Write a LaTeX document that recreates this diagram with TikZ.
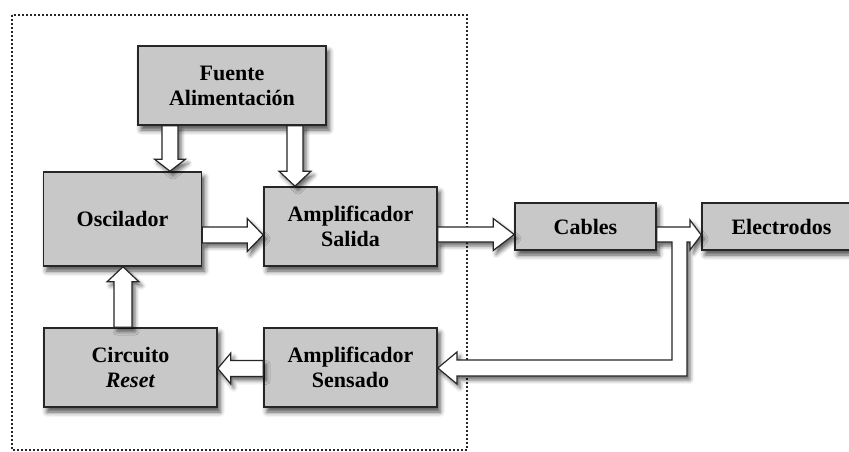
\documentclass[tikz,border=0pt]{standalone}
\usepackage{fontspec}
\setmainfont{Liberation Serif}
\usetikzlibrary{calc,shadows,shadows.blur}
\definecolor{boxgray}{RGB}{200,200,200}
\tikzset{
  blk/.style={draw=black!85, line width=1.6pt, fill=boxgray, rectangle, align=center,
    font=\fontsize{22}{25}\selectfont\bfseries, inner sep=0pt,
    blur shadow={shadow xshift=3pt, shadow yshift=-5pt, shadow blur radius=5pt, shadow opacity=70}},
  harrow/.style={draw=black!85, line width=1.2pt, fill=white, line join=miter,
    blur shadow={shadow xshift=3pt, shadow yshift=-4pt, shadow blur radius=4pt, shadow opacity=60}},
  frame/.style={draw=black!85, line width=2pt, dotted},
}
% block arrow: #2 start, #3 tip, #4 shaft half width, #5 head half width, #6 head length
\newcommand\blockarr[6][]{%
  \path ($(#3)!#6!(#2)$) coordinate (ba-h);
  \draw[harrow,#1] ($(#2)!#4!90:(#3)$) -- ($(ba-h)!#4!-90:(#2)$) -- ($(ba-h)!#5!-90:(#2)$)
     -- (#3) -- ($(ba-h)!#5!90:(#2)$) -- ($(ba-h)!#4!90:(#2)$) -- ($(#2)!#4!-90:(#3)$) -- cycle;
}
\begin{document}
\begin{tikzpicture}[x=1pt,y=-1pt]
\useasboundingbox (0,0) rectangle (849,452);
\begin{scope}
\clip (0,0) rectangle (849,452);
% frame
\draw[frame] (12,15) rectangle (467,450);
% boxes
\node[blk, minimum width=188pt, minimum height=79pt] (fu) at (232,85.5) {Fuente\\Alimentación};
\node[blk, minimum width=158pt, minimum height=94pt] (osc) at (122.5,219) {Oscilador};
\node[blk, minimum width=173pt, minimum height=79pt] (sal) at (350.5,226.5) {Amplificador\\Salida};
\node[blk, minimum width=173pt, minimum height=79pt] (res) at (130.5,367.5) {Circuito\\\textit{Reset}};
\node[blk, minimum width=173pt, minimum height=79pt] (sen) at (350.5,367.5) {Amplificador\\Sensado};
\node[blk, minimum width=141pt, minimum height=47pt] (cab) at (585.5,226.5) {Cables};
\node[blk, minimum width=160pt, minimum height=47pt, text width=147pt, align=left] (ele) at (782,226.5) {\hspace*{23pt}Electrodos};
% connector end points
\coordinate (a1s) at (170,0 |- fu.south);
\coordinate (a1e) at (170,0 |- osc.north);
\coordinate (a2s) at (295,0 |- fu.south);
\coordinate (a2e) at (295,0 |- sal.north);
\coordinate (a3s) at (osc.east |- 0,235);
\coordinate (a3e) at (sal.west |- 0,235);
\coordinate (a4s) at (sal.east |- 0,234.5);
\coordinate (a4e) at (cab.west |- 0,234.5);
\coordinate (a5s) at (123,0 |- res.north);
\coordinate (a5e) at (123,0 |- osc.south);
\coordinate (a6s) at (sen.west |- 0,368.5);
\coordinate (a6e) at (res.east |- 0,368.5);
% arrows
\blockarr{a1s}{a1e}{8pt}{15.5pt}{12pt}
\blockarr{a2s}{a2e}{8pt}{16pt}{15pt}
\blockarr{a3s}{a3e}{8pt}{16.5pt}{16pt}
\blockarr{a4s}{a4e}{7.5pt}{16pt}{21pt}
\blockarr{a5s}{a5e}{9pt}{16pt}{15pt}
\blockarr{a6s}{a6e}{8pt}{15.5pt}{13pt}
% cables -> electrodos with feedback branch to sensado
\coordinate (ct) at (cab.east |- 0,227);
\coordinate (cb) at (cab.east |- 0,242);
\coordinate (etip) at (ele.west |- 0,235);
\coordinate (stip) at (sen.east |- 0,368);
\draw[harrow] (ct) -- (690,227) -- (690,220) -- (etip) -- (690,250) -- (690,242)
  -- (687,242) -- (687,376) -- (457,376) -- (457,384) -- (stip) -- (457,352) -- (457,360)
  -- (672,360) -- (672,242) -- (cb) -- cycle;
\end{scope}
\end{tikzpicture}
\end{document}
